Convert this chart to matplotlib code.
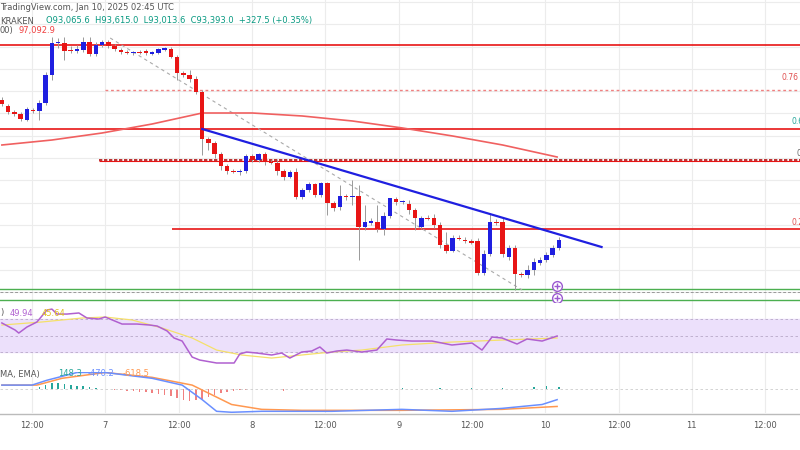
import matplotlib
matplotlib.use("Agg")
import matplotlib.pyplot as plt
import numpy as np

# OHLC candles (open, high, low, close)
candles = [
(96000,96060,95880,95920),(95880,95920,95720,95760),(95760,95800,95680,95720),(95720,95760,95580,95620),
(95600,95860,95580,95820),(95800,95840,95740,95780),(95780,96000,95600,95940),(95940,96560,95900,96500),
(96500,97260,96400,97140),(97140,97240,97040,97160),(97140,97260,96800,96980),(97000,97080,96940,96980),
(96980,97100,96940,97020),(97000,97260,96960,97160),(97160,97260,96880,96920),(96920,97160,96880,97100),
(97100,97200,97060,97160),(97160,97200,97040,97080),(97080,97120,96980,97020),(97000,97040,96920,96960),
(96960,97000,96920,96950),(96950,96990,96910,96960),(96960,97000,96920,96950),(96980,97020,96900,96940),
(96940,96980,96900,96950),(96940,97040,96920,97020),(97020,97060,96980,97020),(97020,97060,96840,96860),
(96860,96900,96400,96540),(96540,96580,96460,96500),(96500,96600,96360,96420),(96420,96480,96120,96160),
(96160,96200,94900,95220),(95220,95260,95000,95140),(95140,95180,94840,94920),(94920,94960,94600,94680),
(94680,94720,94520,94580),(94580,94620,94540,94570),(94570,94620,94500,94580),(94580,94920,94540,94880),
(94880,94920,94760,94800),(94800,94940,94760,94920),(94920,94960,94700,94760),(94760,94800,94720,94750),
(94750,94800,94500,94580),(94580,94620,94400,94460),(94460,94600,94440,94560),(94560,94640,94020,94060),
(94060,94240,94020,94200),(94200,94360,94160,94320),(94320,94340,94060,94100),(94100,94360,94060,94340),
(94340,94360,93700,93940),(93940,93980,93780,93840),(93860,94300,93800,94080),(94080,94120,94000,94060),
(94060,94400,93900,94080),(94080,94300,92800,93460),(93460,93900,93400,93560),(93560,93640,93500,93560),
(93560,93900,93360,93420),(93420,93760,93300,93680),(93680,94040,93640,94040),(94020,94060,93900,93960),
(93960,94000,93920,93980),(93920,94000,93720,93800),(93800,93840,93400,93640),(93460,93680,93420,93640),
(93640,93700,93600,93620),(93640,93720,93440,93500),(93500,93560,93040,93100),(93100,93360,92940,92980),
(92980,93300,92960,93240),(93240,93300,93200,93220),(93200,93260,93140,93180),(93180,93220,93120,93140),
(93180,93240,92500,92540),(92540,93000,92500,92920),(92920,93740,92880,93560),(93560,93620,93500,93540),
(93560,93640,92860,92920),(92860,93100,92800,93040),(93040,93100,92200,92520),(92520,92560,92460,92500),
(92500,92700,92440,92600),(92600,92840,92500,92760),(92740,92860,92700,92800),(92800,92960,92760,92900),
(92900,93100,92860,93040),(93040,93260,93000,93200),
]

sma_x = [0,8,16,24,32,40,48,56,64,72,80,88.7]
sma_y = [95100,95200,95340,95520,95740,95740,95680,95580,95440,95280,95100,94860]

trend_x = [32, 95.8]; trend_y = [95420, 93060]
fibdiag_x = [17.3, 83.1]; fibdiag_y = [97240, 92200]

rsi_x = [0,2.1,2.7,4,5.6,7.2,8,8.8,10.4,12.3,13.6,15.5,16.5,19.2,21.6,23.6,24.8,26.4,27.5,28.8,30.4,31.6,34.3,37.1,38,39.1,40.7,43.1,44.7,46,47.9,49.5,50.8,51.9,53.5,55.1,57.5,59.9,61.5,63.1,65.5,68.7,71.9,75.1,76.7,78.3,79.9,82.3,83.9,86.3,88.7]
rsi_v = [65.2,56.7,53,60.3,66.4,80.9,82,76,76,77.3,71.2,70,72.4,63.9,63.9,62.7,61.5,55.5,47,43.3,23.9,20.3,16.7,16.7,27.6,30,28.8,26.4,28.8,22.7,30,31.2,36.1,28.8,31.2,32.4,30,32.4,45.8,44.5,43.3,43.3,38.5,40.9,32.4,48.2,47,39.7,45.8,43.3,49.4]
rsima_x = [0,6.4,12.8,16.5,20.8,25.6,30.4,34.3,38.3,43.1,47.9,52.7,57.5,63.9,71.9,79.9,88.7]
rsima_v = [62.7,66.4,71.2,72.4,68.8,59.1,47,32.4,26.4,22.7,26.4,30,32.4,38.5,42.1,44.5,47]

macd_x = [0,4.8,7.2,12,16.5,24,28.8,32,34.3,36.7,41.5,47.9,52.7,63.9,71.9,79.9,86.3,88.7]
macd_v = [160,160,360,680,680,440,160,-440,-920,-960,-920,-920,-920,-840,-920,-800,-640,-440]
sig_x = [0,5.6,9.6,16.5,24,30.4,36.7,41.5,47.9,63.9,79.9,88.7]
sig_v = [160,160,440,680,480,160,-640,-840,-880,-880,-840,-720]
hist_x = list(range(6,16)) + list(range(18,40)) + [45,64,70,75,80,85,87,89]
hist_v = [80,160,240,240,200,160,120,120,80,40,
          -40,-40,-80,-80,-120,-120,-160,-200,-240,-280,-360,-440,-480,-440,-400,-320,-240,-160,-120,-80,-40,-40,
          -80,40,40,40,40,80,120,80]

tick_pos = [4.8,16.5,28.3,40.0,51.6,63.4,75.1,86.8,98.6,110.2,121.9]
tick_lbl = ["12:00","7","12:00","8","12:00","9","12:00","10","12:00","11","12:00"]

BLUE = "#1f1fe0"; RED = "#e81515"
XL = (-0.3, 127.5)

fig = plt.figure(figsize=(8,4.5), dpi=100)
ax = fig.add_axes([0, 1-303/450, 1, 303/450])
ar = fig.add_axes([0, 1-372/450, 1, 69/450])
am = fig.add_axes([0, 1-413/450, 1, 41/450])
for a in (ax, ar, am):
    a.set_xlim(*XL)
    a.set_xticks([]); a.set_yticks([])
    for s in a.spines.values(): s.set_visible(False)
    for t in tick_pos:
        a.axvline(t, color="#ececec", lw=0.8, zorder=0)
ax.set_ylim(91940, 98000)
for g in np.arange(92164, 98000, 446):
    ax.axhline(g, color="#ececec", lw=0.8, zorder=0)

# horizontal levels
ax.axhline(97100, color=RED, lw=1.2, zorder=1)
ax.hlines(96200, 16.5, XL[1], color="#f08080", lw=1.0, ls=(0,(2,2)), zorder=1)
ax.axhline(95420, color=RED, lw=1.2, zorder=1)
ax.hlines(94800, 15.5, XL[1], color="#b01010", lw=1.2, ls=(0,(2,1)), zorder=1)
ax.hlines(94790, 15.5, XL[1], color=RED, lw=0.8, zorder=1)
ax.hlines(93420, 27.2, XL[1], color=RED, lw=1.2, zorder=1)
ax.axhline(92220, color="#4caf50", lw=1.0, zorder=1)
ax.axhline(92160, color="#999999", lw=0.7, ls=(0,(3,2)), zorder=1)
ax.axhline(92000, color="#4caf50", lw=1.0, zorder=1)
ax.plot(fibdiag_x, fibdiag_y, color="#aaaaaa", lw=0.8, ls=(0,(3,3)), zorder=1)
ax.plot(sma_x, sma_y, color="#f06060", lw=1.2, zorder=2)

for i, (o, h, l, c) in enumerate(candles):
    col = BLUE if c >= o else RED
    ax.vlines(i, l, h, color="#999999", lw=0.7, zorder=3)
    lo, hi = min(o, c), max(o, c)
    if hi - lo < 25:
        lo, hi = (lo+hi)/2-15, (lo+hi)/2+15
    ax.bar(i, hi-lo, bottom=lo, width=0.72, color=col, zorder=4, linewidth=0)
ax.plot(trend_x, trend_y, color=BLUE, lw=1.6, zorder=5)

for yv in (92290, 92050):
    ax.plot([88.7], [yv], marker="o", ms=7, mfc="white", mec="#9b59d0", mew=1.0, zorder=6)
    ax.plot([88.7], [yv], marker="+", ms=4, mec="#9b59d0", mew=1.0, zorder=7)

# labels
fig.text(0.0, 1-7/450, "TradingView.com, Jan 10, 2025 02:45 UTC", fontsize=6, color="#555555", va="center")
fig.text(0.0, 1-21/450, "KRAKEN", fontsize=6, color="#555555", va="center")
fig.text(0.058, 1-21/450, "O93,065.6  H93,615.0  L93,013.6  C93,393.0  +327.5 (+0.35%)", fontsize=6, color="#089981", va="center")
fig.text(0.0, 1-30/450, "00)", fontsize=6, color="#555555", va="center")
fig.text(0.023, 1-30/450, "97,092.9", fontsize=6, color="#f04040", va="center")
fig.text(0.977, 1-78/450, "0.76", fontsize=5.5, color="#e05050", va="center")
fig.text(0.990, 1-122/450, "0.6", fontsize=5.5, color="#26a69a", va="center")
fig.text(0.996, 1-153/450, "0", fontsize=5.5, color="#666666", va="center")
fig.text(0.990, 1-222/450, "0.2", fontsize=5.5, color="#e05050", va="center")

# RSI
ar.set_ylim(5.8, 89.4)
ar.axhspan(30, 70, color="#ece0fb", zorder=0)
for lv in (70, 50, 30):
    ar.axhline(lv, color="#b8a8c8", lw=0.6, ls=(0,(3,3)))
ar.plot(rsima_x, rsima_v, color="#f5e06a", lw=0.9)
ar.plot(rsi_x, rsi_v, color="#b060d0", lw=1.1)
fig.text(0.0, 1-313/450, ")", fontsize=6, color="#555555", va="center")
fig.text(0.012, 1-313/450, "49.94", fontsize=6, color="#b060d0", va="center")
fig.text(0.052, 1-313/450, "45.64", fontsize=6, color="#e0c020", va="center")

# MACD
am.set_ylim(-990, 700)
am.axhline(0, color="#cccccc", lw=0.6, ls=(0,(3,3)))
hcol = ["#26a69a" if v > 0 else "#f08080" for v in hist_v]
am.bar(hist_x, hist_v, width=0.25, color=hcol)
am.plot(sig_x, sig_v, color="#ff9850", lw=1.1)
am.plot(macd_x, macd_v, color="#6a8fff", lw=1.1)
fig.text(0.0, 1-374/450, "MA, EMA)", fontsize=6, color="#555555", va="center")
fig.text(0.072, 1-374/450, "148.3", fontsize=6, color="#26a69a", va="center")
fig.text(0.11, 1-374/450, "-470.2", fontsize=6, color="#6a8fff", va="center")
fig.text(0.153, 1-374/450, "-618.5", fontsize=6, color="#ff9850", va="center")

# time axis
fig.add_artist(plt.Line2D([0,1],[1-414/450]*2, color="#bbbbbb", lw=1))
at = fig.add_axes([0, 1-436/450, 1, 22/450])
at.set_xlim(*XL); at.set_ylim(0,1); at.axis("off")
for p, l in zip(tick_pos, tick_lbl):
    at.text(p, 0.5, l, fontsize=6, color="#555555", ha="center", va="center")

fig.savefig("out.png", dpi=100, facecolor="white")
